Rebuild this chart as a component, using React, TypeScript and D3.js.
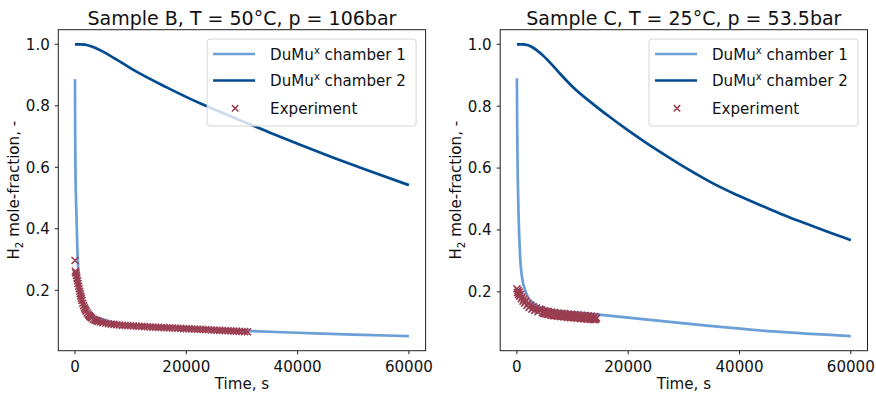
import React from "react";
import * as d3 from "d3";

// ---------- data ----------
const timeTicks = [0, 20000, 40000, 60000];
const fractionTicks = [0.2, 0.4, 0.6, 0.8, 1.0];
const titles = ["Sample B, T = 50°C, p = 106bar", "Sample C, T = 25°C, p = 53.5bar"];
const seriesNames = ["chamber 1", "chamber 2", "Experiment"];

// Sample B
const timeB1 = [0, 30, 80, 150, 220, 300, 420, 600, 900, 1200, 1500, 2100, 2800, 3500, 4500, 6000, 8000, 11000, 15000, 20000, 26000, 32000, 40000, 50000, 60000];
const chamber1B = [0.886, 0.72, 0.6, 0.52, 0.47, 0.42, 0.34, 0.265, 0.205, 0.175, 0.155, 0.132, 0.12, 0.114, 0.108, 0.099, 0.092, 0.086, 0.081, 0.077, 0.072, 0.067, 0.062, 0.056, 0.051];
const timeB2 = [0, 1000, 1800, 3000, 4500, 7500, 10490, 16480, 22470, 28460, 34460, 40450, 46440, 52430, 60000];
const chamber2B = [1.0, 1.0, 0.999, 0.993, 0.981, 0.95, 0.917, 0.86, 0.808, 0.762, 0.717, 0.673, 0.631, 0.591, 0.542];
const expTimeB = [0, 60, 150, 250, 350, 450, 550, 650, 750, 850, 950, 1050, 1150, 1250, 1400, 1550, 1700, 1850, 2000, 2200, 2400, 2600, 2800, 3000, 3300, 3600, 3900, 4200, 4600, 5000, 5500, 6000, 6500, 7000, 7500, 8000, 8500, 9000, 9500, 10000, 10500, 11000, 11500, 12000, 12500, 13000, 13500, 14000, 14500, 15000, 15500, 16000, 16500, 17000, 17500, 18000, 18500, 19000, 19500, 20000, 20500, 21000, 21500, 22000, 22500, 23000, 23500, 24000, 24500, 25000, 25500, 26000, 26500, 27000, 27500, 28000, 28500, 29000, 29500, 30000, 30500, 31000];
const expB = [0.297, 0.262, 0.256, 0.248, 0.24, 0.231, 0.222, 0.213, 0.205, 0.197, 0.189, 0.181, 0.174, 0.167, 0.158, 0.15, 0.143, 0.137, 0.132, 0.126, 0.121, 0.117, 0.113, 0.11, 0.106, 0.103, 0.101, 0.099, 0.097, 0.095, 0.093, 0.091, 0.09, 0.089, 0.088, 0.087, 0.086, 0.0855, 0.085, 0.0845, 0.084, 0.0835, 0.083, 0.0825, 0.0818, 0.0813, 0.0808, 0.0803, 0.0799, 0.0795, 0.0791, 0.0787, 0.0782, 0.0778, 0.0773, 0.0769, 0.0764, 0.076, 0.0755, 0.0751, 0.0746, 0.0742, 0.0737, 0.0733, 0.0728, 0.0724, 0.0719, 0.0715, 0.071, 0.0706, 0.0701, 0.0697, 0.0692, 0.0688, 0.0683, 0.0679, 0.0674, 0.067, 0.0665, 0.0661, 0.0656, 0.0652];

// Sample C
const timeC1 = [0, 60, 150, 300, 590, 900, 1490, 2080, 2690, 3880, 5500, 8080, 12000, 16000, 23000, 34100, 46050, 60000];
const chamber1C = [0.89, 0.72, 0.58, 0.45, 0.31, 0.25, 0.205, 0.18, 0.167, 0.153, 0.144, 0.137, 0.131, 0.124, 0.111, 0.091, 0.072, 0.057];
const timeC2 = [0, 1000, 2000, 3000, 4500, 6000, 7800, 10000, 13750, 16700, 19740, 22700, 25730, 29000, 32300, 35500, 38870, 42000, 44870, 47800, 50850, 53800, 56820, 60000];
const chamber2C = [1.0, 1.0, 0.997, 0.988, 0.967, 0.94, 0.904, 0.863, 0.806, 0.765, 0.725, 0.688, 0.652, 0.615, 0.58, 0.548, 0.5185, 0.4935, 0.4715, 0.4495, 0.428, 0.408, 0.388, 0.367];
const expTimeC = [0, 100, 200, 300, 400, 500, 650, 800, 950, 1100, 1250, 1400, 1600, 1800, 2000, 2200, 2450, 2700, 2950, 3200, 3500, 3800, 4100,
  4400, 4550, 4700, 4850, 5000, 5150, 5300, 5450, 5600, 5750, 5900, 6050, 6200, 6350, 6500, 6650, 6800, 6950, 7100, 7250, 7400, 7550, 7700, 7850,
  8000, 8150, 8300, 8450, 8600, 8750, 8900, 9050, 9200, 9350, 9500, 9650, 9800, 9950, 10100, 10250, 10400, 10550, 10700, 10850, 11000, 11150,
  11300, 11450, 11600, 11750, 11900, 12050, 12200, 12350, 12500, 12650, 12800, 12950, 13100, 13250, 13400, 13550, 13700, 13850, 14000, 14150, 14300];
const expC = [0.21, 0.198, 0.205, 0.192, 0.199, 0.186, 0.192, 0.178, 0.184, 0.17, 0.177, 0.164, 0.17, 0.156, 0.163, 0.15, 0.157, 0.144, 0.152, 0.14, 0.148, 0.136, 0.144,
  0.142, 0.1325, 0.137, 0.1295, 0.139, 0.1297, 0.1343, 0.127, 0.137, 0.1275, 0.132, 0.1245, 0.135, 0.1255, 0.13, 0.1225, 0.133, 0.1237, 0.1284, 0.1211, 0.1318, 0.1225, 0.1272, 0.1199,
  0.1305, 0.1212, 0.126, 0.1187, 0.1295, 0.1202, 0.125, 0.1177, 0.1285, 0.1192, 0.124, 0.1167, 0.1275, 0.1182, 0.123, 0.1157, 0.1265, 0.1172, 0.122, 0.1147, 0.1255, 0.1162,
  0.121, 0.1137, 0.1245, 0.1152, 0.12, 0.1127, 0.1235, 0.1142, 0.119, 0.1117, 0.1225, 0.1132, 0.118, 0.1107, 0.1215, 0.1122, 0.117, 0.1097, 0.1205, 0.1112, 0.116];

// ---------- style ----------
const W = 876;
const H = 398;
const FONT = "'DejaVu Sans', sans-serif";
const C1 = "#6a9fd8";
const C2 = "#004a90";
const CE = "#9b3d51";
const AX_TOP = 29.7;
const AX_BOTTOM = 350.7;
const AX_W = 367.3;
const FS = 15.1;

type PanelProps = {
  left: number;
  title: string;
  t1: number[]; v1: number[];
  t2: number[]; v2: number[];
  te: number[]; ve: number[];
};

function Panel({ left, title, t1, v1, t2, v2, te, ve }: PanelProps) {
  const right = left + AX_W;
  const x = d3.scaleLinear().domain([-3000, 63000]).range([left, right]);
  const all = [...v1, ...v2, ...ve];
  const mn = d3.min(all) as number;
  const mx = d3.max(all) as number;
  const pad = (mx - mn) * 0.05;
  const y = d3.scaleLinear().domain([mn - pad, mx + pad]).range([AX_BOTTOM, AX_TOP]);
  const mk = (ts: number[], vs: number[]) =>
    d3.line<number>().curve(d3.curveMonotoneX).x((d, i) => x(ts[i])).y((d) => y(d))(vs) as string;
  const cross = (cx: number, cy: number, s: number) =>
    `M${cx - s},${cy - s}L${cx + s},${cy + s}M${cx - s},${cy + s}L${cx + s},${cy - s}`;
  const markers = ve.map((v, i) => cross(x(te[i]), y(v), 3.5)).join("");
  const cxMid = (left + right) / 2;
  const lgRight = right - 9.5;
  const lgLeft = lgRight - 209;
  const lgTop = 39;
  const rows = [59.5, 86, 113.5];
  const hx0 = lgLeft + 6;
  const hx1 = lgLeft + 48;
  const tx = lgLeft + 63;
  const lm = lgLeft + 28;
  const lmy = 108.3;
  return (
    <g>
      <path d={mk(t1, v1)} fill="none" stroke={C1} strokeWidth={2.7} strokeLinejoin="round" />
      <path d={mk(t2, v2)} fill="none" stroke={C2} strokeWidth={2.7} strokeLinejoin="round" />
      <path d={markers} fill="none" stroke={CE} strokeWidth={1.6} />
      <rect x={left} y={AX_TOP} width={AX_W} height={AX_BOTTOM - AX_TOP} fill="none" stroke="#222" strokeWidth={1} />
      {timeTicks.map((t) => (
        <g key={"x" + t}>
          <line x1={x(t)} x2={x(t)} y1={AX_BOTTOM} y2={AX_BOTTOM + 3.5} stroke="#222" strokeWidth={1} />
          <text x={x(t)} y={372} textAnchor="middle" fontSize={FS} fontFamily={FONT} fill="#111">
            {d3.format("d")(t)}
          </text>
        </g>
      ))}
      {fractionTicks.map((v) => (
        <g key={"y" + v}>
          <line x1={left} x2={left - 3.5} y1={y(v)} y2={y(v)} stroke="#222" strokeWidth={1} />
          <text x={left - 8.5} y={y(v) + 5.4} textAnchor="end" fontSize={FS} fontFamily={FONT} fill="#111">
            {d3.format(".1f")(v)}
          </text>
        </g>
      ))}
      <text x={cxMid} y={25} textAnchor="middle" fontSize={19} fontFamily={FONT} fill="#111">
        {title}
      </text>
      <text x={cxMid} y={389} textAnchor="middle" fontSize={FS} fontFamily={FONT} fill="#111">
        Time, s
      </text>
      <text
        transform={`translate(${left - 39},${(AX_TOP + AX_BOTTOM) / 2}) rotate(-90)`}
        textAnchor="middle"
        fontSize={FS}
        fontFamily={FONT}
        fill="#111"
      >
        H<tspan fontSize={10.5} dy={4}>2</tspan>
        <tspan dy={-4}> mole-fraction, -</tspan>
      </text>
      <rect x={lgLeft} y={lgTop} width={209} height={87} rx={3} fill="white" fillOpacity={0.8} stroke="#d5d5d5" strokeWidth={1} />
      <line x1={hx0} x2={hx1} y1={rows[0] - 5.5} y2={rows[0] - 5.5} stroke={C1} strokeWidth={2.7} />
      <line x1={hx0} x2={hx1} y1={rows[1] - 5.5} y2={rows[1] - 5.5} stroke={C2} strokeWidth={2.7} />
      <path d={cross(lm, lmy, 3.2)} stroke={CE} strokeWidth={1.5} />
      {[0, 1].map((i) => (
        <text key={"lg" + i} x={tx} y={rows[i]} fontSize={FS} fontFamily={FONT} fill="#111">
          DuMu<tspan fontSize={10} dy={-6}>x</tspan>
          <tspan dy={6}> {seriesNames[i]}</tspan>
        </text>
      ))}
      <text x={tx} y={rows[2]} fontSize={FS} fontFamily={FONT} fill="#111">
        {seriesNames[2]}
      </text>
    </g>
  );
}

export default function App() {
  return (
    <svg
      width={W}
      height={H}
      viewBox={`0 0 ${W} ${H}`}
      style={{ position: "absolute", left: 0, top: 0, background: "white" }}
    >
      <rect width={W} height={H} fill="white" />
      <Panel left={58.3} title={titles[0]} t1={timeB1} v1={chamber1B} t2={timeB2} v2={chamber2B} te={expTimeB} ve={expB} />
      <Panel left={500.2} title={titles[1]} t1={timeC1} v1={chamber1C} t2={timeC2} v2={chamber2C} te={expTimeC} ve={expC} />
    </svg>
  );
}
